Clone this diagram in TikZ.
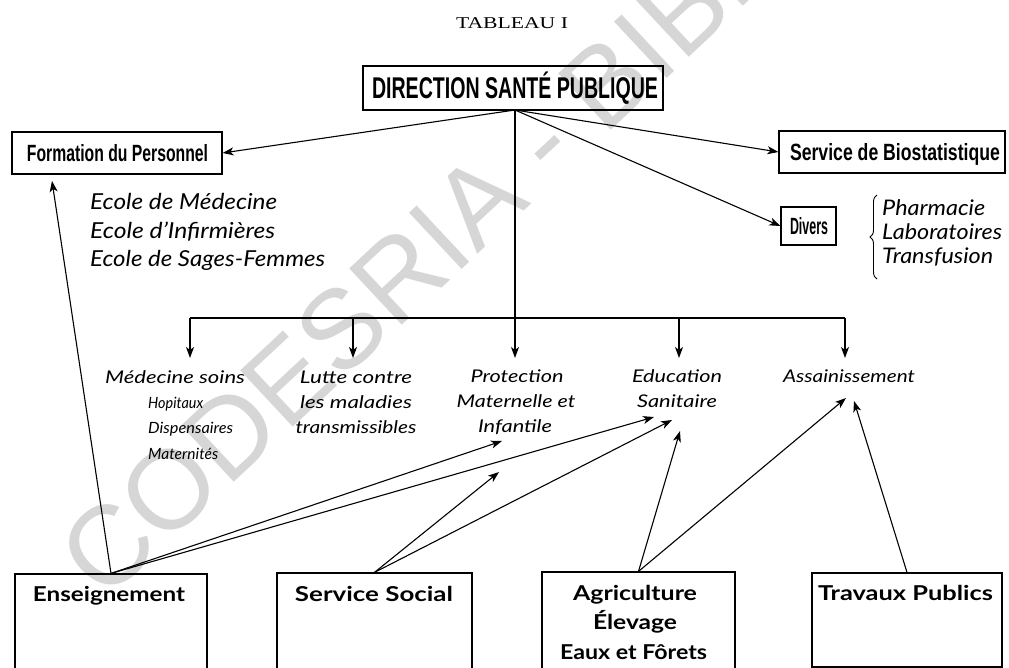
\documentclass[tikz,border=0pt]{standalone}
\usepackage{fontspec}
\setmainfont{Liberation Serif}
\newfontfamily\lato{Lato}
\newfontfamily\lsans{Liberation Sans}
\usetikzlibrary{arrows.meta,decorations.pathreplacing}
\newcommand{\fw}[2]{\resizebox{#1pt}{\height}{#2}}
\newcommand{\cb}[3]{{\lsans\bfseries\fontsize{#1}{#1}\selectfont\fw{#2}{#3}}}
\newcommand{\li}[3]{{\lato\itshape\fontsize{#1}{#1}\selectfont\fw{#2}{#3}}}
\newcommand{\lb}[3]{{\lato\bfseries\fontsize{#1}{#1}\selectfont\fw{#2}{#3}}}
\begin{document}
\begin{tikzpicture}[x=1pt,y=-1pt,
  ln/.style={line width=1.1pt, draw=black},
  arr/.style={ln, -{Stealth[length=11pt,width=8pt,inset=3pt]}},
  box/.style={draw=black, line width=1.2pt, inner sep=0pt, fill=none},
  txt/.style={inner sep=0pt, text=black},
  wm/.style={inner sep=0pt, text=black!16, font=\lsans\fontsize{112}{112}\selectfont}]
\useasboundingbox[fill=white] (0,0) rectangle (1009,668);

% watermark
\node[wm, rotate=43, anchor=base west] (wm) at (104,603) {CODESRIA - BIBLIO};

% title
\node[txt, anchor=base] (title) at (512,29) {\fontsize{16.5}{16.5}\selectfont\fw{112}{TABLEAU I}};

% top boxes
\node[box, minimum width=300pt, minimum height=44pt] (dir) at (513,88) {};
\node[txt, anchor=base] (dirT) at (515,99) {\cb{30}{286}{DIRECTION SANTÉ PUBLIQUE}};

\node[box, minimum width=210pt, minimum height=42pt] (form) at (117,153) {};
\node[txt, anchor=base] (formT) at (117.5,162) {\cb{23.5}{181}{Formation du Personnel}};

\node[box, minimum width=226pt, minimum height=42pt] (bio) at (892,152) {};
\node[txt, anchor=base] (bioT) at (895,161) {\cb{23.5}{210}{Service de Biostatistique}};

\node[box, minimum width=55pt, minimum height=38pt] (div) at (808.5,226) {};
\node[txt, anchor=base] (divT) at (809,235) {\cb{23.5}{38}{Divers}};

% ecoles
\node[txt, anchor=base west] (ec1) at (90,210) {\li{22}{187}{Ecole de Médecine}};
\node[txt, anchor=base west] (ec2) at (90,238.5) {\li{22}{185}{Ecole d’Infirmières}};
\node[txt, anchor=base west] (ec3) at (90,267) {\li{22}{235}{Ecole de Sages-Femmes}};

% divers list with brace
\draw[line width=0.9pt, decorate, decoration={brace, amplitude=7pt}] (877,279) -- (877,195);
\node[txt, anchor=base west] (dv1) at (882,216) {\li{21.5}{103}{Pharmacie}};
\node[txt, anchor=base west] (dv2) at (882,240) {\li{21.5}{120}{Laboratoires}};
\node[txt, anchor=base west] (dv3) at (882,264) {\li{21.5}{111}{Transfusion}};

% lower labels
\node[txt, anchor=base] (med1) at (175,383) {\li{17.5}{140}{Médecine soins}};
\node[txt, anchor=base west] (med2) at (148,408) {\li{15.5}{55}{Hopitaux}};
\node[txt, anchor=base west] (med3) at (148,433) {\li{15.5}{85}{Dispensaires}};
\node[txt, anchor=base west] (med4) at (148,459) {\li{15.5}{70}{Maternités}};

\node[txt, anchor=base] (lut1) at (356,383) {\li{17.5}{112}{Lutte contre}};
\node[txt, anchor=base] (lut2) at (356,408) {\li{17.5}{112}{les maladies}};
\node[txt, anchor=base] (lut3) at (356,433) {\li{17.5}{121}{transmissibles}};

\node[txt, anchor=base] (pro1) at (517,382) {\li{17.5}{93}{Protection}};
\node[txt, anchor=base] (pro2) at (516,407) {\li{17.5}{119}{Maternelle et}};
\node[txt, anchor=base] (pro3) at (515,432) {\li{17.5}{74}{Infantile}};

\node[txt, anchor=base] (edu1) at (677,382) {\li{17.5}{90}{Education}};
\node[txt, anchor=base] (edu2) at (677,407) {\li{17.5}{80}{Sanitaire}};

\node[txt, anchor=base] (ass) at (849,382) {\li{17.5}{132}{Assainissement}};

% bottom boxes (open at the page edge)
\node[box, minimum width=192pt, minimum height=101pt] (ens) at (111,624.5) {};
\node[txt, anchor=base] (ensT) at (109,601) {\lb{20.5}{152}{Enseignement}};

\node[box, minimum width=195pt, minimum height=102pt] (ss) at (374.5,624) {};
\node[txt, anchor=base] (ssT) at (374,601) {\lb{20.5}{158}{Service Social}};

\node[box, minimum width=193pt, minimum height=103pt] (agri) at (638.5,623.5) {};
\node[txt, anchor=base] (agT1) at (635,600) {\lb{20.5}{124}{Agriculture}};
\node[txt, anchor=base] (agT2) at (635,629) {\lb{20.5}{84}{Élevage}};
\node[txt, anchor=base] (agT3) at (633.5,659) {\lb{20.5}{147}{Eaux et Fôrets}};

\node[box, minimum width=190pt, minimum height=94pt] (trav) at (907,620) {};
\node[txt, anchor=base] (travT) at (905.5,600) {\lb{20.5}{175}{Travaux Publics}};

% coordinates for arrow tips
\coordinate (apex) at (515,110);
\coordinate (barL) at (190,318);
\coordinate (barR) at (845,318);
\coordinate (b2) at (353,318);
\coordinate (b4) at (679,318);
\coordinate (tMed) at (190,358);
\coordinate (tLut) at (353,358);
\coordinate (tPro) at (515,358);
\coordinate (tEdu) at (679,358);
\coordinate (tAss) at (845,358);
\coordinate (tFormUp) at (52,181);
\coordinate (tProA) at (502,441);
\coordinate (tProB) at (499,472);
\coordinate (tEduA) at (654,417);
\coordinate (tEduB) at (672,420);
\coordinate (tEduC) at (680,431);
\coordinate (tAssA) at (846,398);
\coordinate (tAssB) at (854,401);

% top connectors
\draw[arr] (apex) -- (form.east);
\draw[arr] (apex) -- (bio.west);
\draw[arr] (apex) -- (div.west);
\draw[arr] (apex) -- (tPro);

% bar
\draw[ln] (barL) -- (barR);
\draw[arr] (barL) -- (tMed);
\draw[arr] (b2) -- (tLut);
\draw[arr] (b4) -- (tEdu);
\draw[arr] (barR) -- (tAss);

% bottom connectors
\draw[arr] (ens.north) -- (tFormUp);
\draw[arr] (ens.north) -- (tProA);
\draw[arr] (ens.north) -- (tEduA);
\draw[arr] (ss.north) -- (tProB);
\draw[arr] (ss.north) -- (tEduB);
\draw[arr] (agri.north) -- (tEduC);
\draw[arr] (agri.north) -- (tAssA);
\draw[arr] (trav.north) -- (tAssB);
\end{tikzpicture}
\end{document}
